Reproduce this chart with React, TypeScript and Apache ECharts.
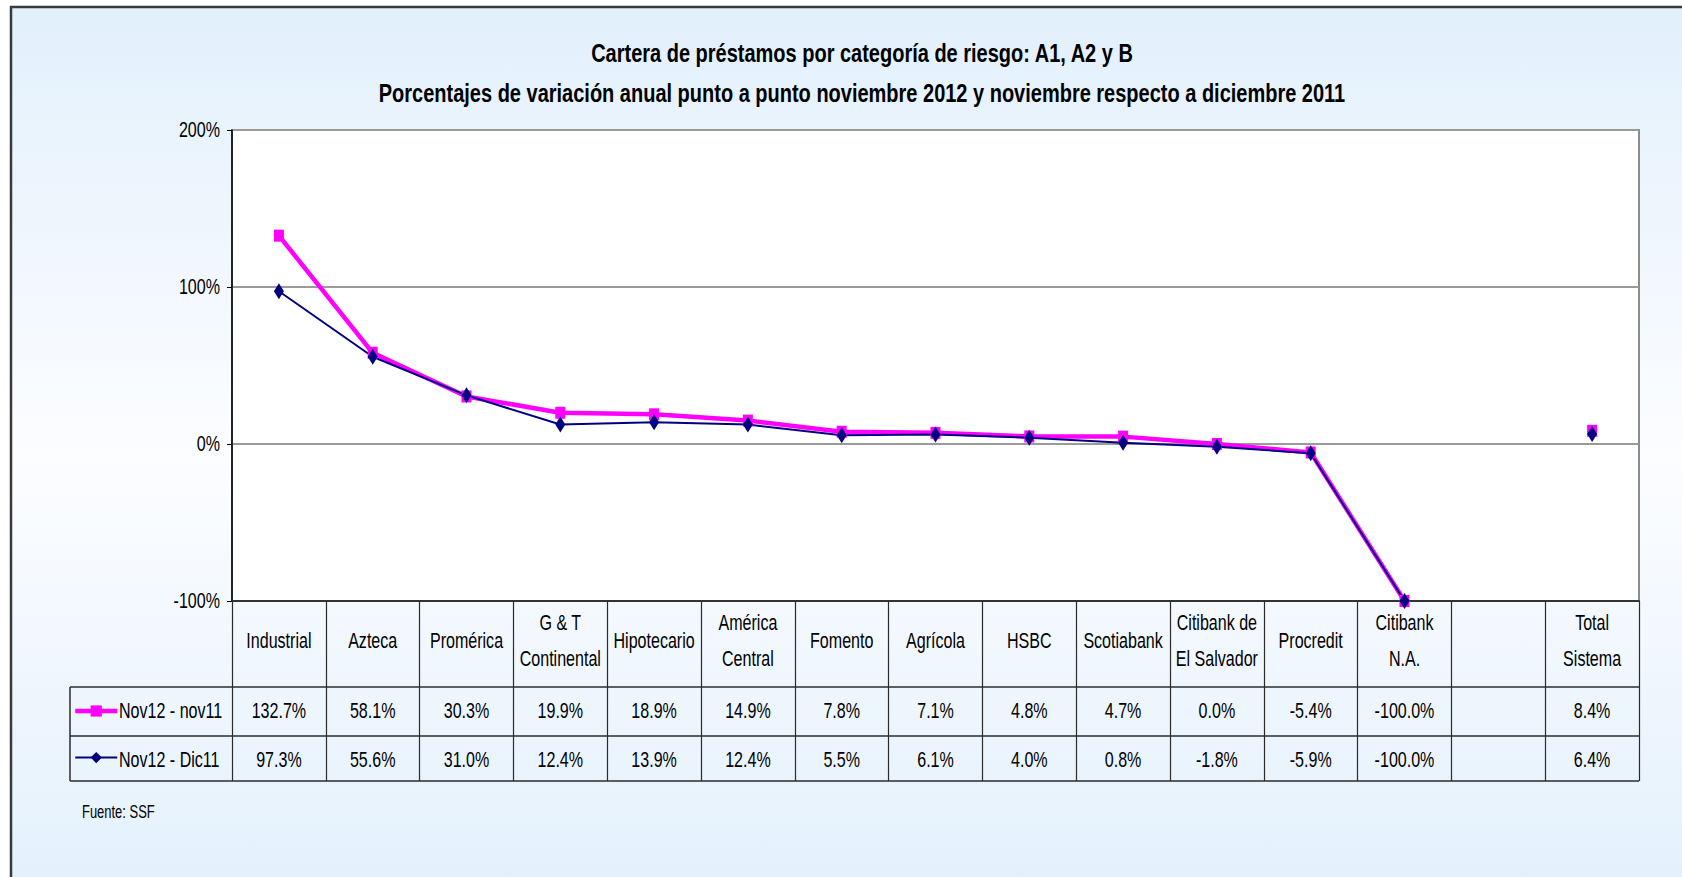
import React, { useEffect, useRef } from "react";
import * as echarts from "echarts";

const TITLE_LINE_1 = "Cartera de préstamos por categoría de riesgo: A1, A2 y B";
const TITLE_LINE_2 =
  "Porcentajes de variación anual punto a punto noviembre 2012 y noviembre respecto a diciembre 2011";
const SOURCE = "Fuente: SSF";

const CATEGORIES = [
  "Industrial",
  "Azteca",
  "Promérica",
  "G & T\nContinental",
  "Hipotecario",
  "América\nCentral",
  "Fomento",
  "Agrícola",
  "HSBC",
  "Scotiabank",
  "Citibank de\nEl Salvador",
  "Procredit",
  "Citibank\nN.A.",
  "",
  "Total\nSistema",
];

const SERIES_NAMES = ["Nov12 - nov11", "Nov12 - Dic11"];

const NOV12_NOV11: (number | null)[] = [
  132.7, 58.1, 30.3, 19.9, 18.9, 14.9, 7.8, 7.1, 4.8, 4.7, 0.0, -5.4, -100.0, null, 8.4,
];
const NOV12_DIC11: (number | null)[] = [
  97.3, 55.6, 31.0, 12.4, 13.9, 12.4, 5.5, 6.1, 4.0, 0.8, -1.8, -5.9, -100.0, null, 6.4,
];

const Y_MIN = -100;
const Y_MAX = 200;
const Y_STEP = 100;
const Y_TICKS = [-100, 0, 100, 200];

const FONT = '"Liberation Sans", Arial, sans-serif';
// the reference uses a tall, condensed face: emulate it by squeezing text horizontally
const TEXT_FONT = `22px ${FONT}`;
const TEXT_SCALE_X = 0.73;
const TITLE_FONT = `bold 25px ${FONT}`;
const TITLE_SCALE_X = 0.8;

const MAGENTA = "#FF00FF";
const NAVY = "#000080";

const fmt = (v: number | null) => (v === null || v === undefined ? "" : `${v.toFixed(1)}%`);

export default function App() {
  const ref = useRef<HTMLDivElement>(null);

  useEffect(() => {
    if (!ref.current) return;
    const chart = echarts.init(ref.current, null, { renderer: "svg" });

    const gridLeft = 232;
    const gridTop = 130;
    const gridRight = 1639;
    const gridBottom = 601;
    const tableLeft = 70;
    const row1 = 687;
    const row2 = 736;
    const row3 = 781;

    const baseOption: any = {
      animation: false,
      textStyle: { fontFamily: FONT },
      grid: {
        left: gridLeft,
        top: gridTop,
        width: gridRight - gridLeft,
        height: gridBottom - gridTop,
        show: true,
        backgroundColor: "#ffffff",
        borderColor: "#8c8c8c",
        borderWidth: 2,
        containLabel: false,
      },
      legend: {
        data: [
          { name: SERIES_NAMES[0], lineStyle: { width: 4.5, color: MAGENTA } },
          { name: SERIES_NAMES[1], lineStyle: { width: 2, color: NAVY } },
        ],
        orient: "vertical",
        left: 73,
        top: 704,
        padding: 0,
        itemWidth: 42,
        itemHeight: 14,
        itemGap: 34,
        formatter: () => "",
        textStyle: { fontSize: 1 },
      },
      xAxis: {
        type: "category",
        data: CATEGORIES,
        position: "bottom",
        boundaryGap: true,
        axisLine: { onZero: false, lineStyle: { color: "#333333", width: 2 } },
        axisTick: {
          show: true,
          interval: 0,
          length: row3 - gridBottom,
          lineStyle: { color: "#2b2b2b", width: 1.2 },
        },
        axisLabel: { show: false },
        splitLine: { show: false },
      },
      yAxis: {
        type: "value",
        min: Y_MIN,
        max: Y_MAX,
        interval: Y_STEP,
        axisLine: { show: true, lineStyle: { color: "#000", width: 1.5 } },
        axisTick: { show: true, length: 5, lineStyle: { color: "#000" } },
        axisLabel: { show: false },
        splitLine: { show: true, lineStyle: { color: "#9a9a9a", width: 2 } },
      },
      series: [
        {
          name: SERIES_NAMES[0],
          type: "line",
          data: NOV12_NOV11,
          connectNulls: false,
          symbol: "rect",
          symbolSize: [10, 12],
          lineStyle: { color: MAGENTA, width: 4.5 },
          itemStyle: { color: MAGENTA },
        },
        {
          name: SERIES_NAMES[1],
          type: "line",
          data: NOV12_DIC11,
          connectNulls: false,
          symbol: "diamond",
          symbolSize: [10, 16],
          lineStyle: { color: NAVY, width: 2 },
          itemStyle: { color: NAVY },
        },
      ],
    };

    chart.setOption(baseOption);

    const colX = CATEGORIES.map((_, i) => chart.convertToPixel({ xAxisIndex: 0 }, i) as number);
    const yPix = (v: number) => chart.convertToPixel({ yAxisIndex: 0 }, v) as number;

    const squeezed = (
      text: string,
      x: number,
      y: number,
      align: string,
      font = TEXT_FONT,
      scaleX = TEXT_SCALE_X,
      lineHeight?: number
    ) => ({
      type: "text",
      x,
      y,
      scaleX,
      z: 20,
      silent: true,
      style: {
        text,
        align,
        verticalAlign: "middle",
        font,
        fill: "#000",
        ...(lineHeight ? { lineHeight } : {}),
      },
    });

    const lineStyle = { stroke: "#2b2b2b", lineWidth: 1.5 };
    const headerY = (gridBottom + row1) / 2 - 3;
    const valRow1Y = (row1 + row2) / 2 - 1;
    const valRow2Y = (row2 + row3) / 2 + 1;

    const graphics: any[] = [
      {
        type: "rect",
        z: -10,
        silent: true,
        shape: { x: 11, y: 7, width: 1720, height: 900 },
        style: {
          fill: new echarts.graphic.LinearGradient(0, 0, 0, 1, [
            { offset: 0, color: "#E2F0FC" },
            { offset: 0.5, color: "#FCFDFF" },
            { offset: 1, color: "#E2F0FC" },
          ]),
          stroke: "#3a3a3a",
          lineWidth: 2.5,
        },
      },
      squeezed(TITLE_LINE_1, 862, 54, "center", TITLE_FONT, TITLE_SCALE_X),
      squeezed(TITLE_LINE_2, 862, 94, "center", TITLE_FONT, TITLE_SCALE_X),
      squeezed(SOURCE, 82, 812, "left", `18px ${FONT}`, 0.72),
      { type: "line", z: 10, shape: { x1: tableLeft, y1: row1, x2: gridRight, y2: row1 }, style: lineStyle },
      { type: "line", z: 10, shape: { x1: tableLeft, y1: row2, x2: gridRight, y2: row2 }, style: lineStyle },
      { type: "line", z: 10, shape: { x1: tableLeft, y1: row3, x2: gridRight, y2: row3 }, style: lineStyle },
      { type: "line", z: 10, shape: { x1: tableLeft, y1: row1, x2: tableLeft, y2: row3 }, style: lineStyle },
      squeezed(SERIES_NAMES[0], 119, valRow1Y, "left"),
      squeezed(SERIES_NAMES[1], 119, valRow2Y, "left"),
    ];

    Y_TICKS.forEach((t) => graphics.push(squeezed(`${t}%`, 220, yPix(t), "right")));

    CATEGORIES.forEach((c, i) => {
      if (c) graphics.push(squeezed(c, colX[i], headerY, "center", TEXT_FONT, TEXT_SCALE_X, 36));
      const a = fmt(NOV12_NOV11[i]);
      const b = fmt(NOV12_DIC11[i]);
      if (a) graphics.push(squeezed(a, colX[i], valRow1Y, "center"));
      if (b) graphics.push(squeezed(b, colX[i], valRow2Y, "center"));
    });

    chart.setOption({ graphic: graphics });
    return () => chart.dispose();
  }, []);

  return (
    <div
      ref={ref}
      style={{ position: "absolute", left: 0, top: 0, width: 1682, height: 877, background: "#fff" }}
    />
  );
}
